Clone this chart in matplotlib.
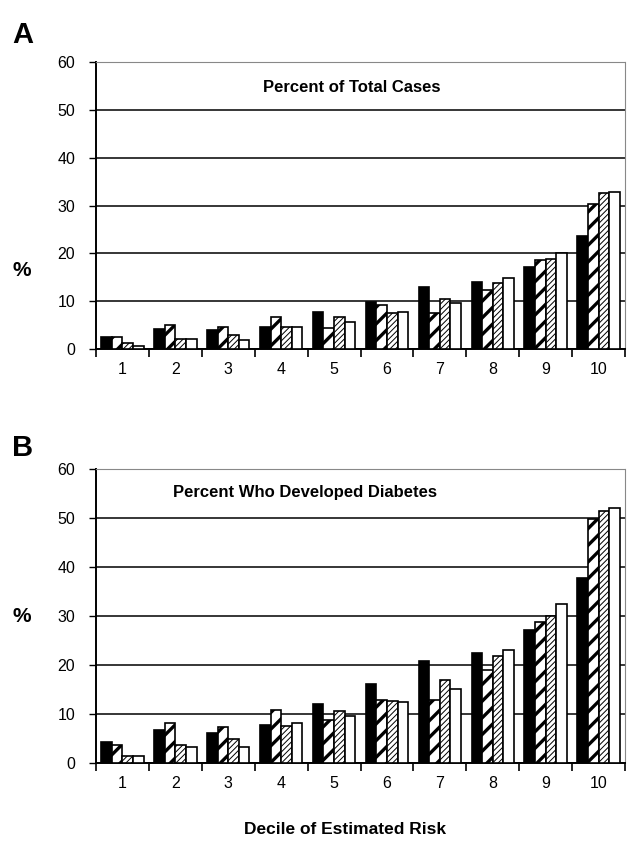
import numpy as np
import matplotlib
matplotlib.use("Agg")
from matplotlib import pyplot as plt

deciles = [str(i) for i in range(1, 11)]

# panel A - percent of total cases (4 series per decile)
a_black = [2.6, 4.2, 4.0, 4.7, 7.7, 9.9, 13.0, 14.1, 17.2, 23.6]
a_dense = [2.6, 5.0, 4.5, 6.6, 4.3, 9.2, 7.6, 12.3, 18.6, 30.3]
a_light = [1.2, 2.1, 2.9, 4.5, 6.6, 7.6, 10.4, 13.9, 18.9, 32.6]
a_white = [0.6, 2.1, 1.9, 4.5, 5.6, 7.8, 9.7, 14.8, 20.1, 32.9]

# panel B - percent who developed diabetes
b_black = [4.3, 6.8, 6.1, 7.8, 12.1, 16.1, 20.8, 22.5, 27.1, 37.8]
b_dense = [3.7, 8.1, 7.4, 10.8, 8.8, 12.9, 12.8, 18.9, 28.8, 49.7]
b_light = [1.4, 3.7, 5.0, 7.6, 10.6, 12.6, 16.9, 21.8, 30.1, 51.4]
b_white = [1.4, 3.2, 3.3, 8.1, 9.5, 12.4, 15.2, 23.1, 32.5, 52.0]

plt.rcParams['font.family'] = ['Liberation Sans', 'DejaVu Sans']

fig = plt.figure(figsize=(6.28, 8.41), dpi=100)
W, H = 628, 841


def panel(rect, series, title, title_xy):
    ax = fig.add_axes(rect)
    x = np.arange(1, 11)
    bw = 0.2
    styles = [
        dict(color='black', hatch=None, hlw=None),
        dict(color='white', hatch='//', hlw=2.4),
        dict(color='white', hatch='//////', hlw=0.7),
        dict(color='white', hatch=None, hlw=None),
    ]
    for k, (vals, st) in enumerate(zip(series, styles)):
        off = (k - 1.5) * bw
        bars = ax.bar(x + off, vals, width=bw, facecolor=st['color'],
                      edgecolor='black', linewidth=1.2, hatch=st['hatch'], zorder=3)
        if st['hlw'] is not None:
            for b in bars:
                if hasattr(b, 'set_hatch_linewidth'):
                    b.set_hatch_linewidth(st['hlw'])
    ax.set_xlim(0.5, 10.5)
    ax.set_ylim(0, 60)
    ax.set_yticks(range(0, 70, 10))
    ax.set_xticks(np.arange(0.5, 11, 1))
    ax.set_xticklabels([])
    ax.set_xticks(x, minor=True)
    ax.set_xticklabels(deciles, minor=True)
    ax.tick_params(axis='x', which='minor', length=0, pad=9, labelsize=11.5)
    ax.tick_params(axis='x', which='major', length=6, width=1.2, direction='out')
    ax.tick_params(axis='y', length=5, width=1, direction='out', labelsize=11.5, pad=10)
    ax.grid(axis='y', color='black', linewidth=1.1, zorder=0)
    ax.set_axisbelow(True)
    ax.spines['left'].set_linewidth(1.4)
    ax.spines['bottom'].set_linewidth(1.4)
    for s in ('top', 'right'):
        ax.spines[s].set_color('#888888')
        ax.spines[s].set_linestyle((0, (2, 1)))
        ax.spines[s].set_linewidth(0.8)
    fig.text(title_xy[0] / W, 1 - title_xy[1] / H, title, ha='center', va='center',
             fontsize=12, fontweight='bold')
    return ax


def rect(left, top, right, bottom):
    return [left / W, 1 - bottom / H, (right - left) / W, (bottom - top) / H]


panel(rect(96, 62, 625, 349), [a_black, a_dense, a_light, a_white],
      'Percent of Total Cases', (352, 87))
panel(rect(96, 469, 625, 763), [b_black, b_dense, b_light, b_white],
      'Percent Who Developed Diabetes', (305, 493))

fig.text(12 / W, 1 - 35 / H, 'A', fontsize=21, fontweight='bold', va='center', ha='left')
fig.text(12 / W, 1 - 448 / H, 'B', fontsize=21, fontweight='bold', va='center', ha='left')
fig.text(22 / W, 1 - 270 / H, '%', fontsize=15, fontweight='bold', va='center', ha='center')
fig.text(22 / W, 1 - 617 / H, '%', fontsize=15, fontweight='bold', va='center', ha='center')
fig.text(345 / W, 1 - 830 / H, 'Decile of Estimated Risk', fontsize=12.5,
         fontweight='bold', va='center', ha='center')

fig.savefig('out.png', dpi=100)
